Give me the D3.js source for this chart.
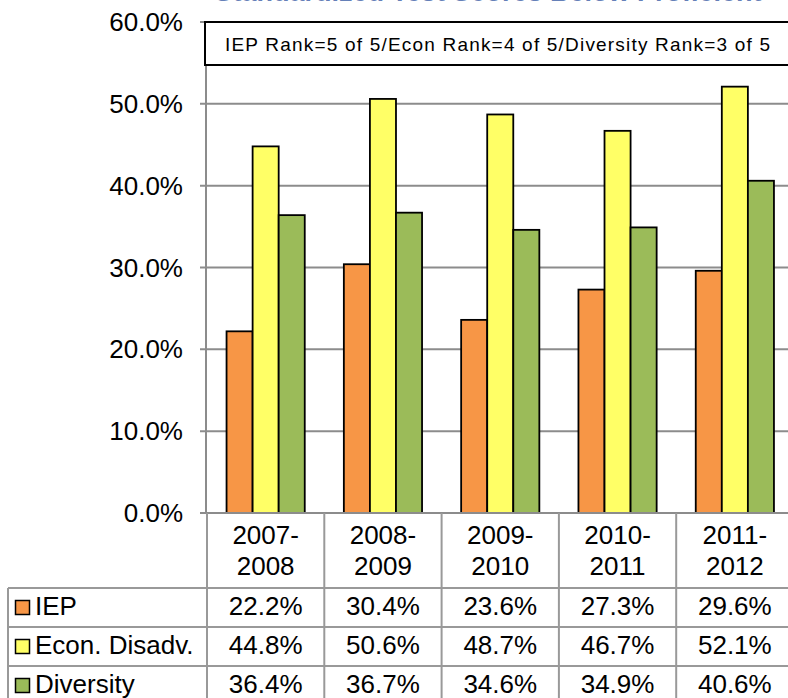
<!DOCTYPE html>
<html>
<head>
<meta charset="utf-8">
<script src="https://cdn.jsdelivr.net/npm/d3@7"></script>
<style>
  body { margin: 0; background: #fff; }
  svg { display: block; font-family: "Liberation Sans", Arial, sans-serif; }
</style>
</head>
<body>
<div id="chart"></div>
<script>
const years = ["2007-2008", "2008-2009", "2009-2010", "2010-2011", "2011-2012"];
const seriesNames = ["IEP", "Econ. Disadv.", "Diversity"];
const iep = [22.2, 30.4, 23.6, 27.3, 29.6];
const econ = [44.8, 50.6, 48.7, 46.7, 52.1];
const diversity = [36.4, 36.7, 34.6, 34.9, 40.6];
const yTicks = [0, 10, 20, 30, 40, 50, 60];
const colors = ["#f79646", "#ffff66", "#9bbb59"];
const note = "IEP Rank=5 of 5/Econ Rank=4 of 5/Diversity Rank=3 of 5";
const title = "Standardized Test Scores Below Proficient";

const series = [iep, econ, diversity];
const width = 788;
const height = 698;

const marginLeft = 207;
const plotTop = 22;
const plotBottom = 513;
const bandWidth = 117.3;
const rowHeight = 39;
const headerBottom = 588;
const tableLeft = 8;
const fontSize = 26;

const x = d3.scaleBand()
  .domain(years)
  .range([marginLeft, marginLeft + bandWidth * years.length])
  .paddingInner(0)
  .paddingOuter(0);

const xInner = d3.scaleBand()
  .domain(d3.range(series.length))
  .range([0, x.bandwidth()])
  .paddingOuter(0.75);

const y = d3.scaleLinear().domain([0, 60]).range([plotBottom, plotTop]);

const svg = d3.select("#chart").append("svg")
  .attr("width", width)
  .attr("height", height)
  .attr("viewBox", [0, 0, width, height]);

// title, cut off at the top edge as in the original slide
svg.append("text")
  .attr("x", 488)
  .attr("y", 1)
  .attr("text-anchor", "middle")
  .attr("fill", "#6580b8")
  .attr("font-weight", "bold")
  .attr("font-size", 27)
  .text(title);

// gridlines
svg.append("g")
  .selectAll("line")
  .data(yTicks.filter((d) => d > 0))
  .join("line")
  .attr("x1", marginLeft - 7)
  .attr("x2", width)
  .attr("y1", (d) => y(d))
  .attr("y2", (d) => y(d))
  .attr("stroke", "#8c8c8c")
  .attr("stroke-width", 2);

// y axis line
svg.append("line")
  .attr("x1", marginLeft - 1)
  .attr("x2", marginLeft - 1)
  .attr("y1", plotTop)
  .attr("y2", plotBottom)
  .attr("stroke", "#8c8c8c")
  .attr("stroke-width", 2);

svg.append("g")
  .selectAll("text")
  .data(yTicks)
  .join("text")
  .attr("x", 183)
  .attr("y", (d) => y(d))
  .attr("dy", "0.35em")
  .attr("text-anchor", "end")
  .attr("font-size", fontSize)
  .attr("fill", "#000")
  .text((d) => d3.format(".1f")(d) + "%");

// bars
svg.append("g")
  .selectAll("g")
  .data(series)
  .join("g")
  .attr("fill", (_, i) => colors[i])
  .each(function (values, si) {
    d3.select(this)
      .selectAll("rect")
      .data(values)
      .join("rect")
      .attr("x", (d, i) => x(years[i]) + xInner(si))
      .attr("y", (d) => y(d))
      .attr("width", xInner.bandwidth())
      .attr("height", (d) => y(0) - y(d))
      .attr("stroke", "#000")
      .attr("stroke-width", 1.8);
  });

// annotation box
svg.append("rect")
  .attr("x", 205)
  .attr("y", plotTop)
  .attr("width", 600)
  .attr("height", 43)
  .attr("fill", "#fff")
  .attr("stroke", "#000")
  .attr("stroke-width", 2);

svg.append("text")
  .attr("x", 225)
  .attr("y", 51)
  .attr("font-size", 19)
  .attr("textLength", 545)
  .attr("lengthAdjust", "spacing")
  .attr("fill", "#000")
  .text(note);

// data table
const table = svg.append("g");
const lineColor = "#999";
const tableBottom = headerBottom + rowHeight * series.length;

// x axis line
table.append("line")
  .attr("x1", marginLeft - 7)
  .attr("x2", width)
  .attr("y1", plotBottom)
  .attr("y2", plotBottom)
  .attr("stroke", "#8c8c8c")
  .attr("stroke-width", 2);

// vertical lines
table.selectAll("line.v")
  .data(years.map((d) => x(d)).concat([x(years[years.length - 1]) + x.bandwidth()]))
  .join("line")
  .attr("class", "v")
  .attr("x1", (d) => d)
  .attr("x2", (d) => d)
  .attr("y1", plotBottom)
  .attr("y2", tableBottom)
  .attr("stroke", lineColor)
  .attr("stroke-width", 2);

table.append("line")
  .attr("x1", tableLeft)
  .attr("x2", tableLeft)
  .attr("y1", headerBottom)
  .attr("y2", tableBottom)
  .attr("stroke", lineColor)
  .attr("stroke-width", 2);

// horizontal lines
table.selectAll("line.h")
  .data(d3.range(series.length + 1))
  .join("line")
  .attr("class", "h")
  .attr("x1", tableLeft)
  .attr("x2", width)
  .attr("y1", (i) => headerBottom + i * rowHeight)
  .attr("y2", (i) => headerBottom + i * rowHeight)
  .attr("stroke", lineColor)
  .attr("stroke-width", 2);

// category labels
table.selectAll("text.cat")
  .data(years)
  .join("text")
  .attr("class", "cat")
  .attr("text-anchor", "middle")
  .attr("font-size", fontSize)
  .attr("fill", "#000")
  .each(function (d) {
    const [a, b] = d.split("-");
    const t = d3.select(this);
    t.append("tspan").attr("x", x(d) + x.bandwidth() / 2).attr("y", 544).text(a + "-");
    t.append("tspan").attr("x", x(d) + x.bandwidth() / 2).attr("y", 575).text(b);
  });

// rows
const rows = table.selectAll("g.row")
  .data(series)
  .join("g")
  .attr("class", "row")
  .attr("transform", (_, i) => `translate(0,${headerBottom + i * rowHeight})`);

rows.append("rect")
  .attr("x", 15.5)
  .attr("y", 12.5)
  .attr("width", 14)
  .attr("height", 14)
  .attr("fill", (_, i) => colors[i])
  .attr("stroke", "#000")
  .attr("stroke-width", 1.5);

rows.append("text")
  .attr("x", 35)
  .attr("y", 27)
  .attr("font-size", fontSize)
  .attr("fill", "#000")
  .text((_, i) => seriesNames[i]);

rows.selectAll("text.val")
  .data((d) => d)
  .join("text")
  .attr("class", "val")
  .attr("x", (d, i) => x(years[i]) + x.bandwidth() / 2)
  .attr("y", 27)
  .attr("text-anchor", "middle")
  .attr("font-size", fontSize)
  .attr("fill", "#000")
  .text((d) => d3.format(".1f")(d) + "%");
</script>
</body>
</html>
